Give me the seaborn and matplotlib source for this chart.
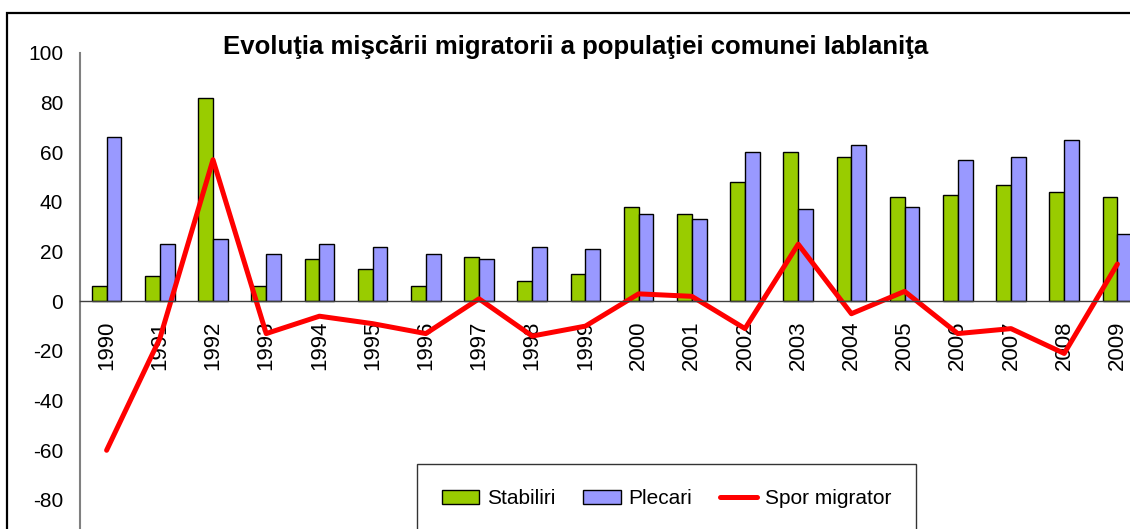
import numpy as np
import pandas as pd
import matplotlib.pyplot as plt
import matplotlib.patches as mpatches
import seaborn as sns

# Date: miscarea migratorie a populatiei, comuna Iablanita
ani = [str(a) for a in range(1990, 2010)]
stabiliri = [6, 10, 82, 6, 17, 13, 6, 18, 8, 11, 38, 35, 48, 60, 58, 42, 43, 47, 44, 42]
plecari = [66, 23, 25, 19, 23, 22, 19, 17, 22, 21, 35, 33, 60, 37, 63, 38, 57, 58, 65, 27]
spor = [-60, -15, 57, -13, -6, -9, -13, 1, -14, -10, 3, 2, -11, 23, -5, 4, -13, -11, -21, 15]
y_ticks = [-80, -60, -40, -20, 0, 20, 40, 60, 80, 100]

sns.set_style("white")
plt.rcParams['font.family'] = ['Liberation Sans', 'DejaVu Sans']
plt.rcParams['axes.unicode_minus'] = False
plt.rcParams['text.color'] = 'black'
plt.rcParams['xtick.labelcolor'] = 'black'
plt.rcParams['ytick.labelcolor'] = 'black'

df = pd.DataFrame({
    'an': ani * 2,
    'val': stabiliri + plecari,
    'serie': ['Stabiliri'] * len(ani) + ['Plecari'] * len(ani),
})

W, H = 1130, 529
fig = plt.figure(figsize=(W / 100, H / 100), dpi=100)
fig.patch.set_facecolor('white')

# axes placed so the plot runs past the right and bottom edge (cropped chart)
ax = fig.add_axes([80 / W, 1 - 549.6 / H, 1064 / W, (549.6 - 53) / H])

sns.barplot(data=df, x='an', y='val', hue='serie', order=ani,
            palette=['#99CC00', '#9999FF'], saturation=1,
            width=0.56, gap=0, edgecolor='black', linewidth=1, ax=ax)
sns.pointplot(x=ani, y=spor, order=ani, color='#FF0000', markers='',
              linewidth=3.6, errorbar=None, ax=ax, label='Spor migrator')

ax.set_ylim(-100, 100)
ax.set_xlim(-0.5, len(ani) - 0.5)
ax.set_yticks(y_ticks)
ax.set_xlabel('')
ax.set_ylabel('')

for s in ['top', 'right']:
    ax.spines[s].set_visible(False)
ax.spines['left'].set_color('#808080')
ax.spines['left'].set_linewidth(1.5)
ax.spines['bottom'].set_position(('data', 0))
ax.spines['bottom'].set_color('#404040')
ax.spines['bottom'].set_linewidth(1)

ax.tick_params(axis='y', direction='inout', length=12, width=1, color='#404040',
               labelsize=15, pad=6)
ax.tick_params(axis='x', which='major', length=0, labelsize=16, pad=14,
               labelrotation=90)
ax.set_xticks(np.arange(len(ani) + 1) - 0.5, minor=True)
ax.tick_params(axis='x', which='minor', direction='inout', length=16, width=1,
               color='#404040')
for lbl in ax.get_xticklabels():
    lbl.set_va('top')

handles, labels = ax.get_legend_handles_labels()
ax.legend(handles, labels, loc='upper left', ncol=3,
          bbox_to_anchor=(417 / W, 1 - 464 / H), bbox_transform=fig.transFigure,
          fontsize=15, frameon=True, fancybox=False, edgecolor='black',
          handlelength=1.8, handleheight=0.65, handletextpad=0.35,
          columnspacing=1.35, borderpad=1.2, borderaxespad=0)
ax.get_legend().get_frame().set_linewidth(1)

fig.text(576 / W, 1 - 47 / H,
         'Evoluţia mişcării migratorii a populaţiei comunei Iablaniţa',
         ha='center', va='center', fontsize=18.5, fontweight='bold')

# chart area border
fig.patches.append(mpatches.Rectangle((7 / W, -0.1), 1.2, 1 - 13 / H + 0.1,
                                      transform=fig.transFigure, fill=False,
                                      edgecolor='black', linewidth=1.6))

fig.savefig('out.png', dpi=100)
